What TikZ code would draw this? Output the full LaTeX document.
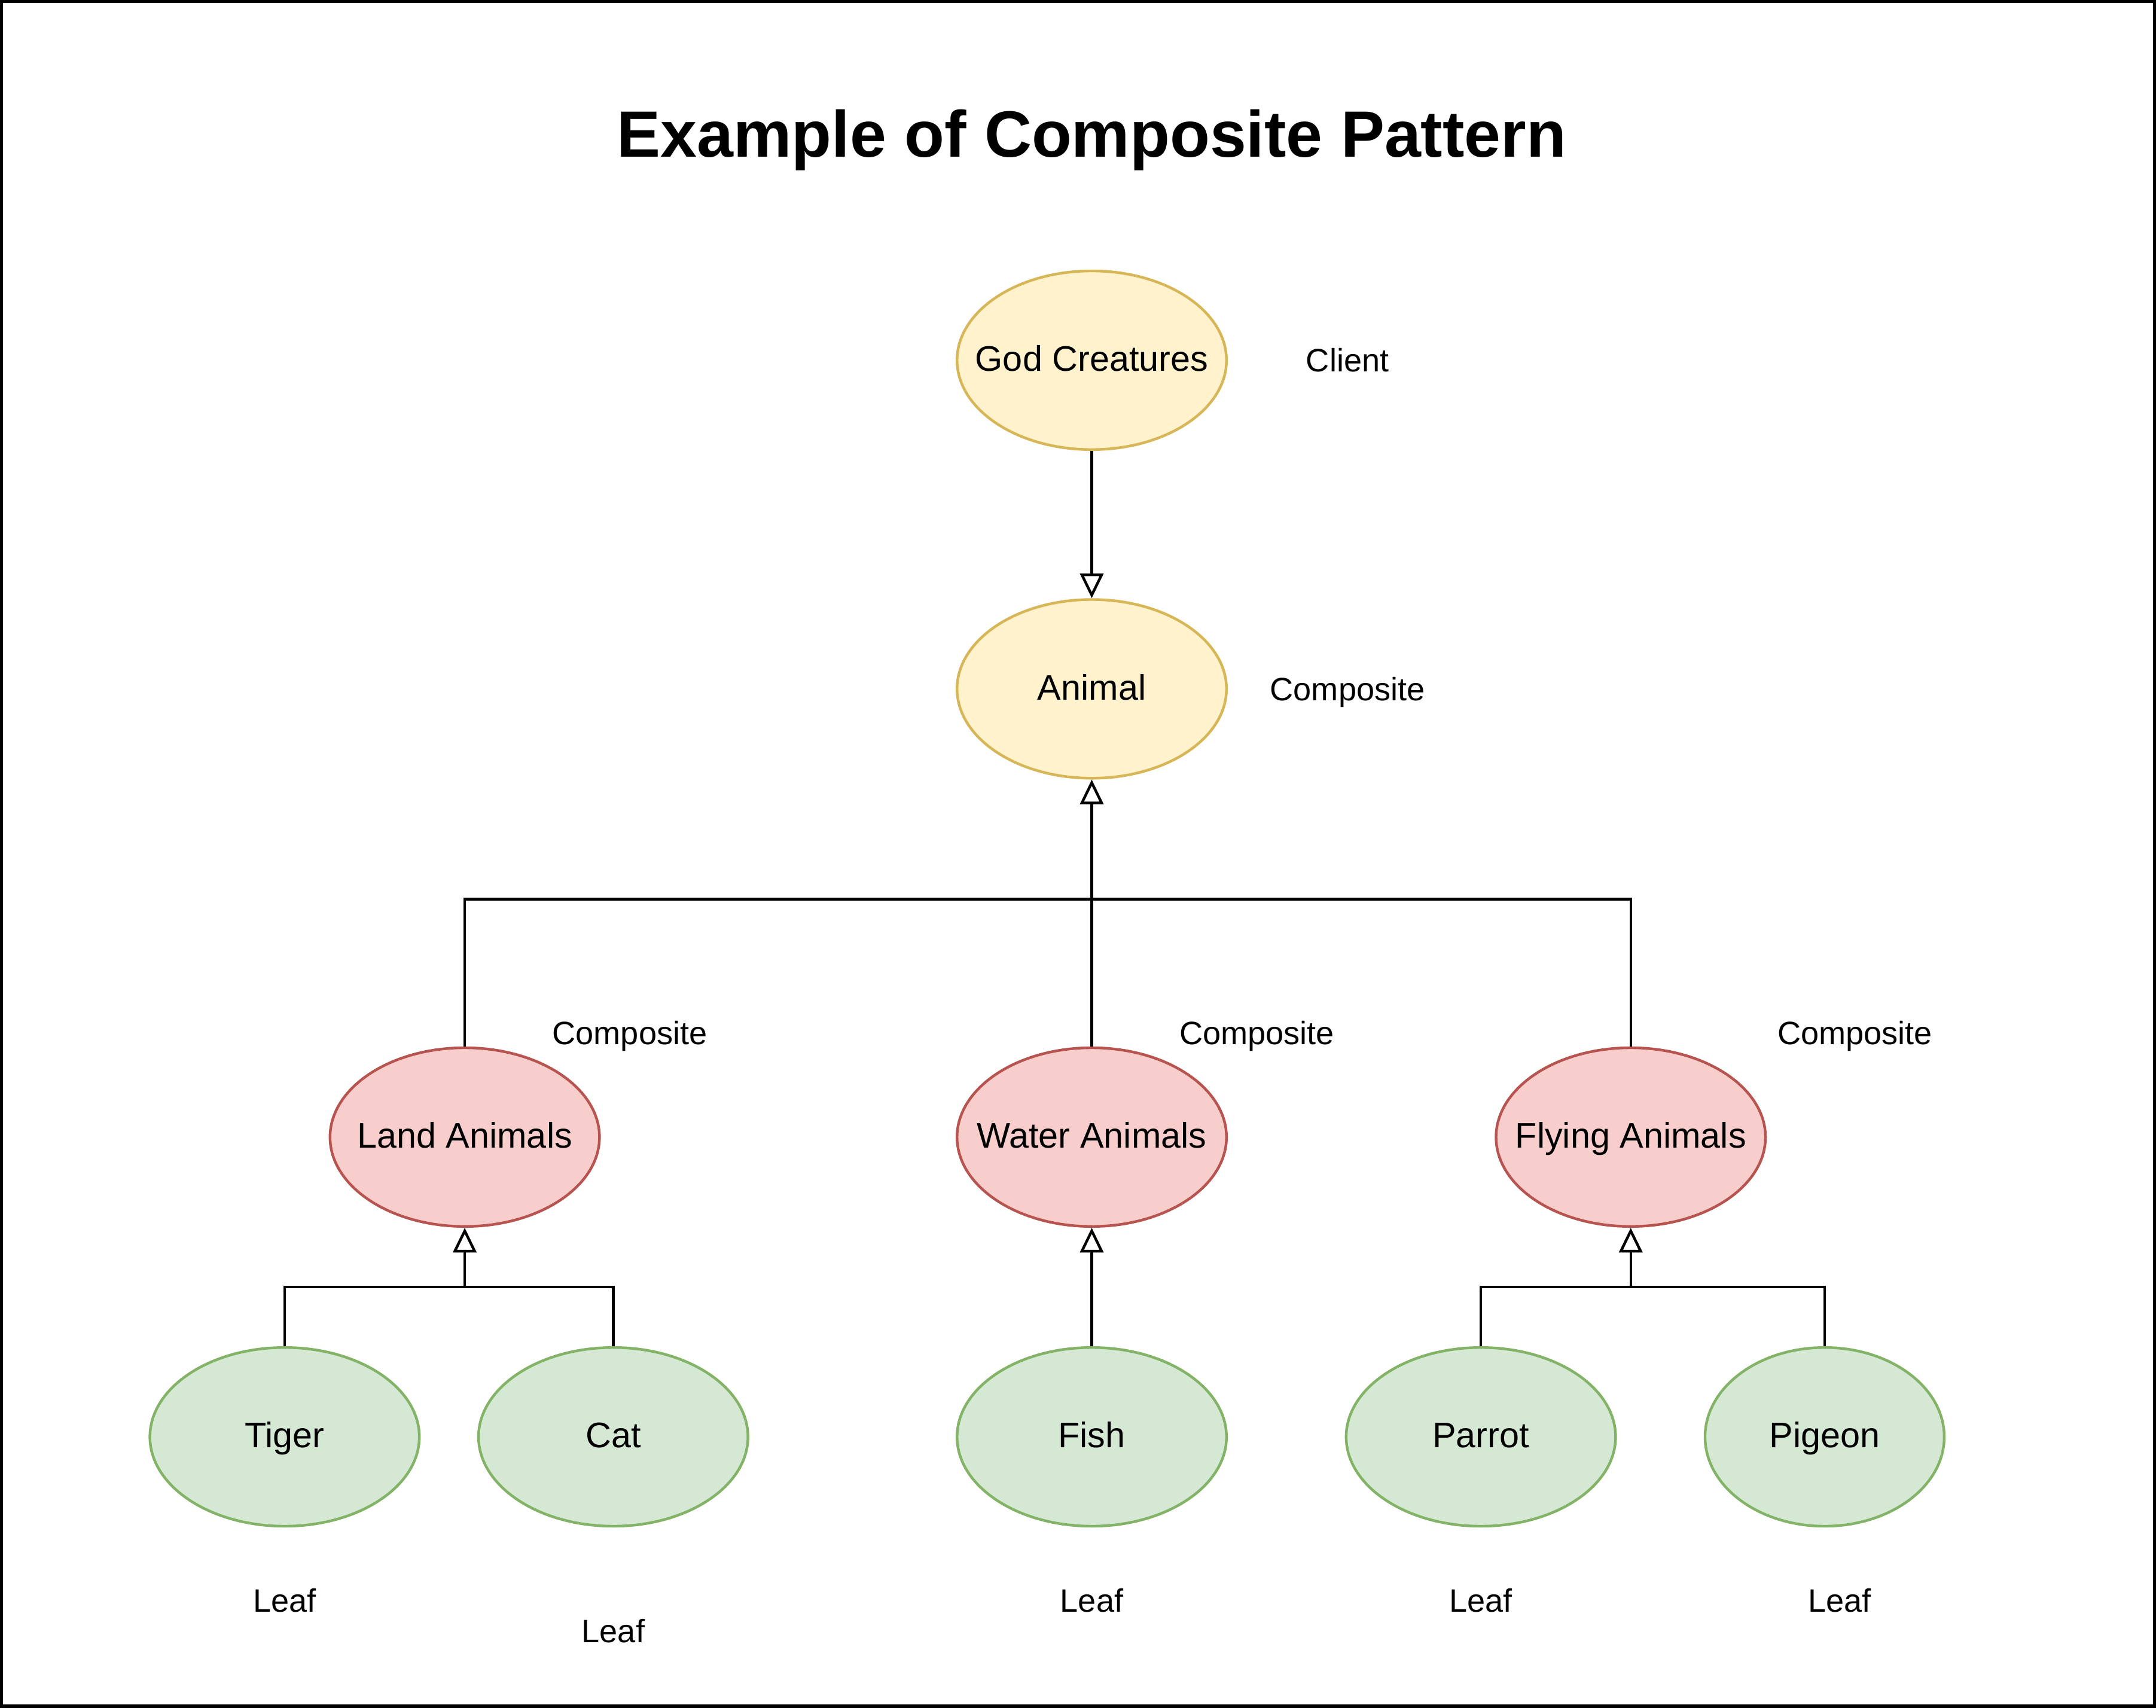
\documentclass[tikz,border=0pt]{standalone}
\usepackage{fontspec}
\setmainfont{Liberation Sans}
\usetikzlibrary{shapes}
\usetikzlibrary{positioning}
\usetikzlibrary{arrows.meta}
\definecolor{yfill}{HTML}{FFF2CC}
\definecolor{ydraw}{HTML}{D6B656}
\definecolor{rfill}{HTML}{F8CECC}
\definecolor{rdraw}{HTML}{B85450}
\definecolor{gfill}{HTML}{D5E8D4}
\definecolor{gdraw}{HTML}{82B366}
\newcommand{\ntx}[1]{\makebox[0pt]{#1}}
\tikzset{
    mynode/.style = {ellipse, line width=1.1pt, align=center, minimum width=3.92cm, minimum height=2.6cm, inner sep=0pt, text height=11pt, text depth=1.9pt, font=\fontsize{14.7}{17}\selectfont, text=black},
    mynodey/.style = {mynode, draw=ydraw, fill=yfill},
    mynoder/.style = {mynode, draw=rdraw, fill=rfill},
    mynodeg/.style = {mynode, draw=gdraw, fill=gfill},
    mylabel/.style = {anchor=base, inner sep=0pt, font=\fontsize{13.4}{16}\selectfont, text=black},
    mytitle/.style = {anchor=base, inner sep=0pt, font=\bfseries\fontsize{27.1}{32}\selectfont, text=black},
    edgen/.style = {-, line width=1.1pt, black}, % plain
    edgei/.style = {-{Triangle[open,length=0.36cm,width=0.34cm]}, line width=1.1pt, black}, % inherits
    frame/.style = {line width=1.25pt, black}
}

\begin{document}
\begin{tikzpicture}[x=0.02cm, y=-0.02cm]

  \useasboundingbox (0,0) rectangle (1568,1242);
  \draw[frame] (1.1,1.1) rectangle (1566.9,1240.9);

  \node[mytitle] (title) at (794,114) {Example of Composite Pattern};

  % client and top composite
  \node[mynodey] (god) at (794,262) {\ntx{God Creatures}};
  \node[mynodey] (animal) at (794,501) {\ntx{Animal}};
  \node[mylabel] (clientlbl) at (980,270.5) {Client};
  \node[mylabel] (animallbl) at (980,509.5) {Composite};

  % composites
  \node[mynoder] (land) at (338,827) {\ntx{Land Animals}};
  \node[mynoder] (water) at (794,827) {\ntx{Water Animals}};
  \node[mynoder] (flying) at (1186,827) {\ntx{Flying Animals}};
  \node[mylabel] (landlbl) at (458,759.5) {Composite};
  \node[mylabel] (waterlbl) at (914,759.5) {Composite};
  \node[mylabel] (flyinglbl) at (1349,759.5) {Composite};

  % leaves
  \node[mynodeg] (tiger) at (207,1045) {\ntx{Tiger}};
  \node[mynodeg] (cat) at (446,1045) {\ntx{Cat}};
  \node[mynodeg] (fish) at (794,1045) {\ntx{Fish}};
  \node[mynodeg] (parrot) at (1077,1045) {\ntx{Parrot}};
  \node[mynodeg, minimum width=3.48cm] (pigeon) at (1327,1045) {\ntx{Pigeon}};
  \node[mylabel] (tigerlbl) at (207,1172.5) {Leaf};
  \node[mylabel] (catlbl) at (446,1194.5) {Leaf};
  \node[mylabel] (fishlbl) at (794,1172.5) {Leaf};
  \node[mylabel] (parrotlbl) at (1077,1172.5) {Leaf};
  \node[mylabel] (pigeonlbl) at (1338,1172.5) {Leaf};

  \coordinate (jtop) at (794,654);
  \coordinate (jland) at (338,936);
  \coordinate (jfly) at (1186,936);

  \draw[edgei] (god) -- (animal);
  \draw[edgei] (water) -- (animal);
  \draw[edgen] (land.north) |- (jtop);
  \draw[edgen] (flying.north) |- (jtop);

  \draw[edgei] (jland) -- (land);
  \draw[edgen] (tiger.north) |- (jland);
  \draw[edgen] (cat.north) |- (jland);
  \draw[edgei] (fish) -- (water);
  \draw[edgei] (jfly) -- (flying);
  \draw[edgen] (parrot.north) |- (jfly);
  \draw[edgen] (pigeon.north) |- (jfly);

\end{tikzpicture}
\end{document}
